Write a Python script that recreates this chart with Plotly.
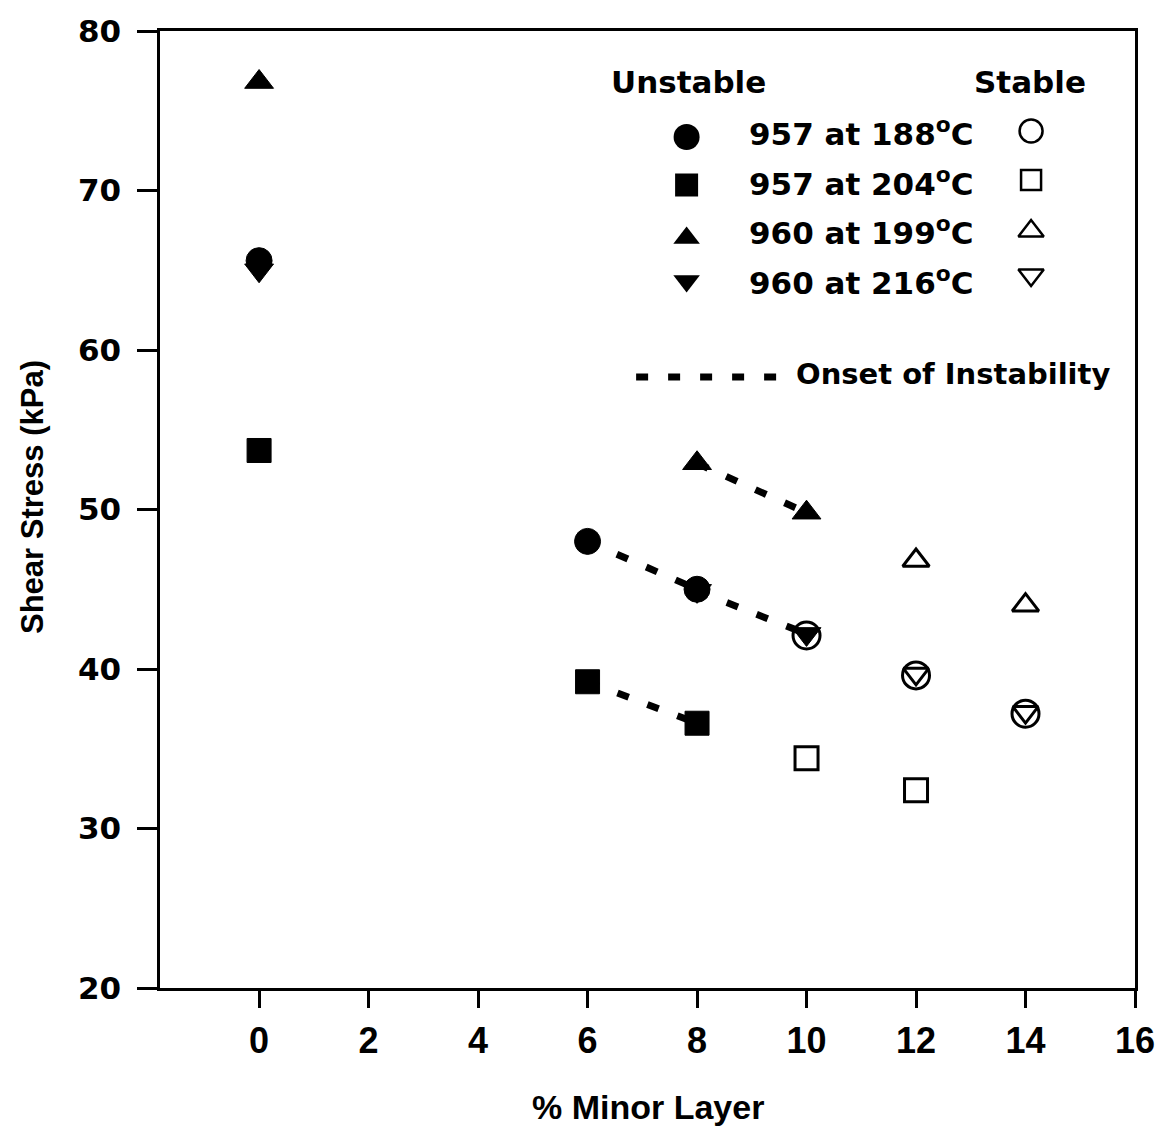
import plotly.graph_objects as go

# ---- data: shear stress (kPa) vs % minor layer ----
x_957_188_unstable = [0, 6, 8]
y_957_188_unstable = [65.6, 48.0, 45.0]
x_957_188_stable = [10, 12, 14]
y_957_188_stable = [42.1, 39.6, 37.2]

x_957_204_unstable = [0, 6, 8]
y_957_204_unstable = [53.7, 39.2, 36.6]
x_957_204_stable = [10, 12]
y_957_204_stable = [34.4, 32.4]

x_960_199_unstable = [0, 8, 10]
y_960_199_unstable = [76.8, 52.9, 49.8]
x_960_199_stable = [12, 14]
y_960_199_stable = [46.8, 44.0]

x_960_216_unstable = [0, 8, 10]
y_960_216_unstable = [65.0, 44.9, 42.2]
x_960_216_stable = [12, 14]
y_960_216_stable = [39.7, 37.3]

series_names = ["957 at 188<sup>o</sup>C", "957 at 204<sup>o</sup>C",
                "960 at 199<sup>o</sup>C", "960 at 216<sup>o</sup>C"]
x_ticks = [0, 2, 4, 6, 8, 10, 12, 14, 16]
y_ticks = [20, 30, 40, 50, 60, 70, 80]

# ---- layout geometry (pixels) ----
W, H = 1167, 1126
L, R, T, B = 160, 22, 31, 138
PW, PH = W - L - R, H - T - B


def px(xp):
    return (xp - L) / PW


def py(yp):
    return (H - B - yp) / PH


BLACK = "black"
DASH = "12px,20px"
ARIAL = "Liberation Sans, Arial, Helvetica, sans-serif"
WIDE = "DejaVu Sans, Verdana, sans-serif"

series = [
    (x_957_188_unstable, y_957_188_unstable, x_957_188_stable, y_957_188_stable, "circle", 26, 27),
    (x_957_204_unstable, y_957_204_unstable, x_957_204_stable, y_957_204_stable, "square", 24, 23),
    (x_960_199_unstable, y_960_199_unstable, x_960_199_stable, y_960_199_stable, "triangle-up", 25, 23),
    (x_960_216_unstable, y_960_216_unstable, x_960_216_stable, y_960_216_stable, "triangle-down", 25, 22),
]

fig = go.Figure()

# onset-of-instability dashed segments: last two unstable points of each series
for xu, yu, xs, ys, sym, sz, szo in series:
    fig.add_trace(go.Scatter(
        x=xu[-2:], y=yu[-2:], mode="lines",
        line=dict(color=BLACK, width=7, dash=DASH),
        showlegend=False, hoverinfo="skip"))

# stable (open) markers
for name, (xu, yu, xs, ys, sym, sz, szo) in zip(series_names, series):
    fig.add_trace(go.Scatter(
        x=xs, y=ys, mode="markers", name=name + " stable",
        marker=dict(symbol=sym + "-open", size=szo, color=BLACK,
                    line=dict(color=BLACK, width=3)),
        showlegend=False))

# unstable (filled) markers
for name, (xu, yu, xs, ys, sym, sz, szo) in zip(series_names, series):
    fig.add_trace(go.Scatter(
        x=xu, y=yu, mode="markers", name=name + " unstable",
        marker=dict(symbol=sym, size=sz, color=BLACK,
                    line=dict(color=BLACK, width=1)),
        showlegend=False))

# ---- key drawn on an overlay axis spanning the plot area (paper fractions) ----
key_rows_y = [132, 182, 231, 281]
filled_marker_y = [137, 185, 238, 281]
open_marker_y = [131, 180, 231, 275]
key_sizes = [26, 23, 23, 23]
key_open_sizes = [23, 20, 22, 22]
symbols = ["circle", "square", "triangle-up", "triangle-down"]

for sym, fy, oy, s, so in zip(symbols, filled_marker_y, open_marker_y, key_sizes, key_open_sizes):
    fig.add_trace(go.Scatter(
        x=[px(692)], y=[py(fy)], xaxis="x2", yaxis="y2", mode="markers",
        marker=dict(symbol=sym, size=s, color=BLACK),
        showlegend=False, hoverinfo="skip"))
    fig.add_trace(go.Scatter(
        x=[px(1040)], y=[py(oy)], xaxis="x2", yaxis="y2", mode="markers",
        marker=dict(symbol=sym + "-open", size=so, color=BLACK,
                    line=dict(color=BLACK, width=2.5)),
        showlegend=False, hoverinfo="skip"))

fig.add_trace(go.Scatter(
    x=[px(641), px(790)], y=[py(377), py(377)], xaxis="x2", yaxis="y2",
    mode="lines", line=dict(color=BLACK, width=7, dash=DASH),
    showlegend=False, hoverinfo="skip"))

KEY_FONT = dict(family=WIDE, size=31, color=BLACK, weight="bold")

annotations = [
    dict(text="Unstable", x=px(694), y=py(82), xanchor="center", yanchor="middle", font=KEY_FONT),
    dict(text="Stable", x=px(1039), y=py(82), xanchor="center", yanchor="middle", font=KEY_FONT),
    dict(text="Onset of Instability", x=px(800), y=py(374), xanchor="left", yanchor="middle",
         font=dict(family=WIDE, size=29, color=BLACK, weight="bold")),
]
for name, ry in zip(series_names, key_rows_y):
    annotations.append(dict(text=name, x=px(753), y=py(ry), xanchor="left", yanchor="middle",
                            font=KEY_FONT))
for a in annotations:
    a.update(xref="paper", yref="paper", showarrow=False)

# axis titles
annotations.append(dict(
    text="Shear Stress (kPa)", xref="paper", yref="paper", x=0, y=py(497),
    xshift=33 - L, xanchor="center", yanchor="middle", textangle=-90, showarrow=False,
    font=dict(family=ARIAL, size=31, color=BLACK, weight="bold")))
annotations.append(dict(
    text="% Minor Layer", xref="paper", yref="paper", x=px(653), y=0,
    yshift=-(1107 - (H - B)), xanchor="center", yanchor="middle", showarrow=False,
    font=dict(family=ARIAL, size=34, color=BLACK, weight="bold")))

fig.update_layout(
    width=W, height=H,
    margin=dict(l=L, r=R, t=T, b=B),
    paper_bgcolor="white", plot_bgcolor="white",
    showlegend=False,
    annotations=annotations,
    xaxis=dict(
        range=[-1.81, 16], tickvals=x_ticks, ticktext=[str(v) for v in x_ticks],
        showgrid=False, zeroline=False,
        showline=True, linecolor=BLACK, linewidth=2.5, mirror=True,
        ticks="outside", ticklen=17, tickwidth=2.5, tickcolor=BLACK,
        ticklabelstandoff=2, ticklabeloverflow="allow",
        tickfont=dict(family=ARIAL, size=36, color=BLACK, weight="bold"),
    ),
    yaxis=dict(
        range=[20, 80], tickvals=y_ticks, ticktext=[str(v) for v in y_ticks],
        showgrid=False, zeroline=False,
        showline=True, linecolor=BLACK, linewidth=2.5, mirror=True,
        ticks="outside", ticklen=20, tickwidth=2.5, tickcolor=BLACK,
        ticklabelstandoff=10,
        tickfont=dict(family=WIDE, size=31, color=BLACK, weight="bold"),
    ),
    xaxis2=dict(range=[0, 1], overlaying="x", visible=False, anchor="y2"),
    yaxis2=dict(range=[0, 1], overlaying="y", visible=False, anchor="x2"),
)

fig.write_html("out.html")
